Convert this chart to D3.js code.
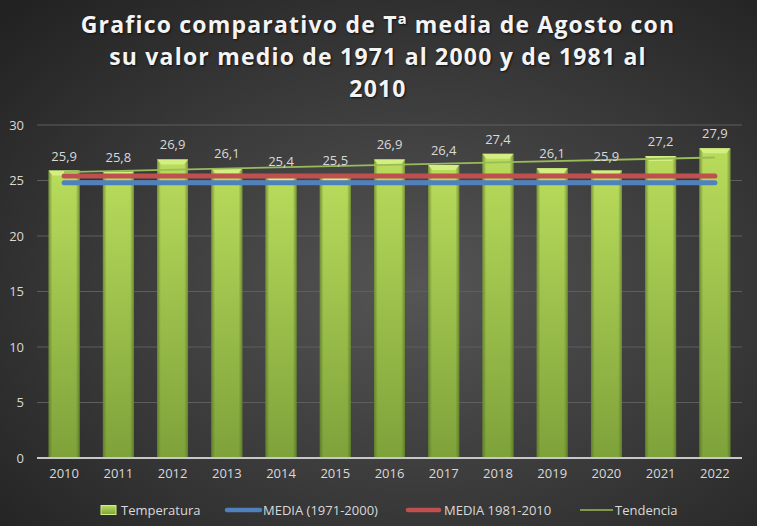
<!DOCTYPE html>
<head>
    <style>
        body { margin: 0; background: #2b2b2b; }
        svg { display: block; font-family: 'Open Sans', sans-serif; }
    </style>
</head>
<body>
    <script src="https://d3js.org/d3.v7.min.js"></script>
    <script>
        // values
        var years = ['2010', '2011', '2012', '2013', '2014', '2015', '2016',
                     '2017', '2018', '2019', '2020', '2021', '2022'];
        var temperatura = [25.9, 25.8, 26.9, 26.1, 25.4, 25.5, 26.9,
                           26.4, 27.4, 26.1, 25.9, 27.2, 27.9];
        var media7100 = 24.8;
        var media8110 = 25.4;
        var tendencia = [25.76, 27.07];   // trend line at first and last year
        var yTicks = [0, 5, 10, 15, 20, 25, 30];
        var titleLines = ['Grafico comparativo de Tª media de Agosto con',
                          'su valor medio de 1971 al 2000 y de 1981 al',
                          '2010'];
        var legendItems = ['Temperatura', 'MEDIA (1971-2000)', 'MEDIA 1981-2010', 'Tendencia'];

        var W = 757, H = 526;
        var svg = d3.select('body').append('svg')
                    .attr('width', W).attr('height', H);

        var defs = svg.append('defs');
        var bg = defs.append('radialGradient').attr('id', 'bg')
                     .attr('cx', '55%').attr('cy', '55%').attr('r', '75%');
        bg.append('stop').attr('offset', '0%').attr('stop-color', '#555555');
        bg.append('stop').attr('offset', '100%').attr('stop-color', '#222222');

        var barGrad = defs.append('linearGradient').attr('id', 'bar')
                          .attr('x1', 0).attr('y1', 0).attr('x2', 0).attr('y2', 1);
        barGrad.append('stop').attr('offset', '0%').attr('stop-color', '#b9dc5c');
        barGrad.append('stop').attr('offset', '100%').attr('stop-color', '#7ea23a');

        var edgeGrad = defs.append('linearGradient').attr('id', 'edge')
                           .attr('x1', 0).attr('y1', 0).attr('x2', 1).attr('y2', 0);
        edgeGrad.append('stop').attr('offset', '0%').attr('stop-color', '#4b6620').attr('stop-opacity', 0.6);
        edgeGrad.append('stop').attr('offset', '12%').attr('stop-color', '#4b6620').attr('stop-opacity', 0);
        edgeGrad.append('stop').attr('offset', '88%').attr('stop-color', '#4b6620').attr('stop-opacity', 0);
        edgeGrad.append('stop').attr('offset', '100%').attr('stop-color', '#4b6620').attr('stop-opacity', 0.6);

        svg.append('rect').attr('width', W).attr('height', H).attr('fill', 'url(#bg)');

        // title
        svg.append('g').selectAll('text')
           .data(titleLines).enter().append('text')
           .attr('x', 378)
           .attr('y', (d, i) => 33 + i * 32)
           .attr('text-anchor', 'middle')
           .attr('fill', '#f4f4f4')
           .attr('font-size', 23)
           .attr('font-weight', 'bold')
           .attr('letter-spacing', 1.2)
           .style('text-shadow', '1px 1px 2px #111')
           .text(d => d);

        var x = d3.scaleBand().domain(years).range([37, 742]).paddingInner(0.43).paddingOuter(0.215);
        var y = d3.scaleLinear().domain([0, 30]).range([458, 125]);
        var cx = d => x(d) + x.bandwidth() / 2;

        // grid
        svg.append('g').selectAll('line')
           .data(yTicks.filter(d => d > 0)).enter().append('line')
           .attr('x1', 37).attr('x2', 742)
           .attr('y1', d => y(d)).attr('y2', d => y(d))
           .attr('stroke', '#5e5e5e').attr('stroke-width', 1);

        // y axis labels
        var yAxis = svg.append('g').attr('transform', 'translate(24,0)')
                       .call(d3.axisLeft(y).tickValues(yTicks).tickSize(0).tickPadding(0));
        yAxis.select('.domain').remove();
        yAxis.selectAll('text').attr('fill', '#d9d9d9').attr('font-size', 13)
             .attr('font-family', "'Open Sans', sans-serif");

        // bars
        var bars = svg.append('g').selectAll('g')
                      .data(years).enter().append('g');
        bars.append('rect')
            .attr('x', d => x(d)).attr('width', x.bandwidth())
            .attr('y', (d, i) => y(temperatura[i]))
            .attr('height', (d, i) => y(0) - y(temperatura[i]))
            .attr('fill', 'url(#bar)');
        bars.append('rect')
            .attr('x', d => x(d)).attr('width', x.bandwidth())
            .attr('y', (d, i) => y(temperatura[i]))
            .attr('height', (d, i) => y(0) - y(temperatura[i]))
            .attr('fill', 'url(#edge)');
        // bevelled top cap
        bars.append('path')
            .attr('d', (d, i) => {
                var x0 = x(d), x1 = x(d) + x.bandwidth(), t = y(temperatura[i]);
                return 'M' + x0 + ',' + t + 'L' + x1 + ',' + t +
                       'L' + (x1 - 4) + ',' + (t + 5) + 'L' + (x0 + 4) + ',' + (t + 5) + 'Z';
            })
            .attr('fill', '#d3ef82');

        // x axis
        var xAxis = svg.append('g').attr('transform', 'translate(0,458)')
                       .call(d3.axisBottom(x).tickSize(0).tickPadding(11));
        xAxis.select('.domain').attr('stroke', '#c8c8c8').attr('stroke-width', 2)
             .attr('d', 'M37,0H742');
        xAxis.selectAll('text').attr('fill', '#d9d9d9').attr('font-size', 13)
             .attr('font-family', "'Open Sans', sans-serif");

        // mean lines
        var first = cx(years[0]), last = cx(years[years.length - 1]);
        svg.append('line')
           .attr('x1', first).attr('x2', last)
           .attr('y1', y(media7100)).attr('y2', y(media7100))
           .attr('stroke', '#4f81bd').attr('stroke-width', 5).attr('stroke-linecap', 'round');
        svg.append('line')
           .attr('x1', first).attr('x2', last)
           .attr('y1', y(media8110)).attr('y2', y(media8110))
           .attr('stroke', '#c0504d').attr('stroke-width', 5).attr('stroke-linecap', 'round');
        svg.append('line')
           .attr('x1', first).attr('x2', last)
           .attr('y1', y(tendencia[0])).attr('y2', y(tendencia[1]))
           .attr('stroke', '#9bbb59').attr('stroke-width', 1.8);

        // data labels
        svg.append('g').selectAll('text')
           .data(years).enter().append('text')
           .attr('x', d => cx(d))
           .attr('y', (d, i) => y(temperatura[i]) - 10)
           .attr('text-anchor', 'middle')
           .attr('fill', '#d9d9d9').attr('font-size', 13)
           .text((d, i) => String(temperatura[i]).replace('.', ','));

        // legend
        var lg = svg.append('g').attr('font-size', 13).attr('fill', '#d9d9d9');
        lg.append('rect').attr('x', 101).attr('y', 505.5).attr('width', 15).attr('height', 9)
          .attr('fill', 'url(#bar)').attr('stroke', '#d3ef82').attr('stroke-width', 1);
        lg.append('line').attr('x1', 227).attr('x2', 260).attr('y1', 510).attr('y2', 510)
          .attr('stroke', '#4f81bd').attr('stroke-width', 4.5).attr('stroke-linecap', 'round');
        lg.append('line').attr('x1', 408).attr('x2', 439).attr('y1', 510).attr('y2', 510)
          .attr('stroke', '#c0504d').attr('stroke-width', 4.5).attr('stroke-linecap', 'round');
        lg.append('line').attr('x1', 580).attr('x2', 613).attr('y1', 510).attr('y2', 510)
          .attr('stroke', '#9bbb59').attr('stroke-width', 1.5);
        lg.selectAll('text').data(legendItems).enter().append('text')
          .attr('x', (d, i) => [121, 263, 444, 615][i])
          .attr('y', 515)
          .text(d => d);
    </script>
</body>
